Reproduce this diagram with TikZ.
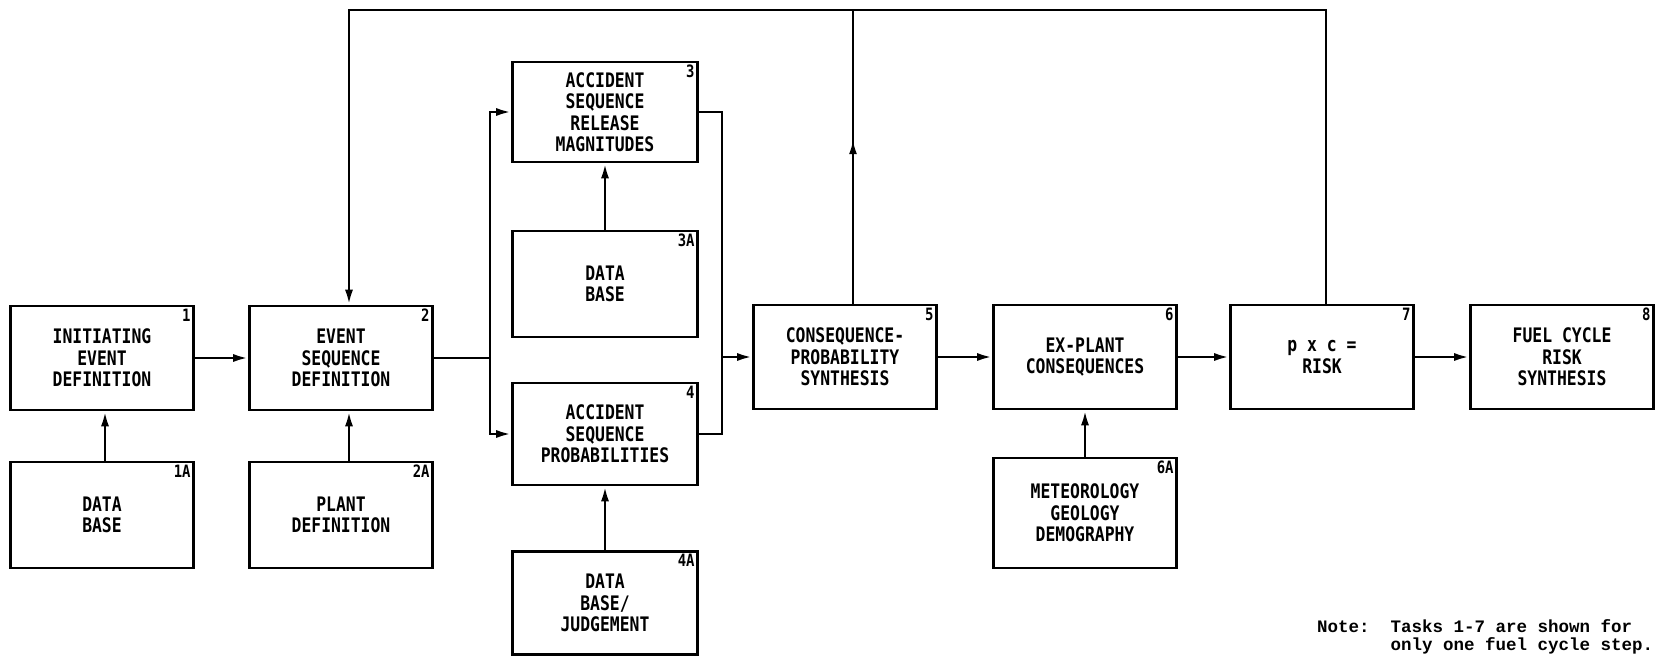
\documentclass[tikz,border=0pt]{standalone}
\usepackage{fontspec}
\usepackage{tikz}
\usetikzlibrary{arrows.meta, positioning, decorations.markings}
\newfontfamily\boxfont[FakeStretch=0.82]{DejaVu Sans Mono}
\newfontfamily\notefont{Liberation Mono}

\begin{document}
\begin{tikzpicture}[x=1pt, y=-1pt,
    task/.style={rectangle, draw=black, line width=2.6pt, minimum width=183pt, minimum height=104pt, text centered, align=center, inner sep=2pt, font=\boxfont\bfseries\fontsize{20}{21.5}\selectfont},
    tag/.style={anchor=north east, inner sep=4pt, font=\boxfont\bfseries\fontsize{17}{17}\selectfont},
    note/.style={anchor=north west, align=left, inner sep=0pt, font=\notefont\bfseries\fontsize{17.5}{18}\selectfont},
    line/.style={draw=black, line width=2.6pt},
    arrow/.style={line, -{Latex[length=15pt, width=8pt]}},
    midarrow/.style={line, postaction={decorate}, decoration={markings, mark=at position 0.56 with {\arrow{Latex[length=15pt, width=8pt]}}}}]

    \useasboundingbox (0,0) rectangle (1655,656);

    \node [task] (b1) at (102,358) {INITIATING\\EVENT\\DEFINITION};
    \node [task] (b2) at (341,358) {EVENT\\SEQUENCE\\DEFINITION};
    \node [task, minimum height=106pt] (b1a) at (102,515) {DATA\\BASE};
    \node [task, minimum height=106pt] (b2a) at (341,515) {PLANT\\DEFINITION};

    \node [task, minimum width=185pt, minimum height=100pt] (b3) at (605,112) {ACCIDENT\\SEQUENCE\\RELEASE\\MAGNITUDES};
    \node [task, minimum width=185pt, minimum height=106pt] (b3a) at (605,284) {DATA\\BASE};
    \node [task, minimum width=185pt, minimum height=102pt] (b4) at (605,434) {ACCIDENT\\SEQUENCE\\PROBABILITIES};
    \node [task, minimum width=185pt, minimum height=103pt] (b4a) at (605,603) {DATA\\BASE/\\JUDGEMENT};

    \node [task] (b5) at (845,357) {CONSEQUENCE-\\PROBABILITY\\SYNTHESIS};
    \node [task] (b6) at (1085,357) {EX-PLANT\\CONSEQUENCES};
    \node [task, minimum height=110pt] (b6a) at (1085,513) {METEOROLOGY\\GEOLOGY\\DEMOGRAPHY};
    \node [task] (b7) at (1322,357) {p x c =\\RISK};
    \node [task] (b8) at (1562,357) {FUEL CYCLE\\RISK\\SYNTHESIS};

    \node [tag] (n1) at (b1.north east) {1};
    \node [tag] (n2) at (b2.north east) {2};
    \node [tag] (n1a) at (b1a.north east) {1A};
    \node [tag] (n2a) at (b2a.north east) {2A};
    \node [tag] (n3) at (b3.north east) {3};
    \node [tag] (n3a) at (b3a.north east) {3A};
    \node [tag] (n4) at (b4.north east) {4};
    \node [tag] (n4a) at (b4a.north east) {4A};
    \node [tag] (n5) at (b5.north east) {5};
    \node [tag] (n6) at (b6.north east) {6};
    \node [tag] (n6a) at (b6a.north east) {6A};
    \node [tag] (n7) at (b7.north east) {7};
    \node [tag] (n8) at (b8.north east) {8};

    \coordinate (split) at (490,358);
    \coordinate (merge) at (722,357);
    \coordinate (top) at (0,10);

    \draw [arrow] (b1) -- (b2);
    \draw [arrow] ([xshift=3pt]b1a.north) -- ([xshift=3pt]b1.south);
    \draw [arrow] ([xshift=8pt]b2a.north) -- ([xshift=8pt]b2.south);
    \draw [line] (b2.east) -- (split);
    \draw [arrow] (split) |- (b3.west);
    \draw [arrow] (split) |- (b4.west);
    \draw [arrow] (b3a) -- (b3);
    \draw [arrow] (b4a) -- (b4);
    \draw [line] (b3.east) -| (merge);
    \draw [line] (b4.east) -| (merge);
    \draw [arrow] (merge) -- (b5.west);
    \draw [arrow] (b5) -- (b6);
    \draw [arrow] (b6a) -- (b6);
    \draw [arrow] (b6) -- (b7);
    \draw [arrow] (b7) -- (b8);

    \draw [arrow] ([xshift=4pt]b7.north) -- ([xshift=4pt]b7.north |- top) -| ([xshift=8pt]b2.north);
    \draw [midarrow] ([xshift=8pt]b5.north) -- ([xshift=8pt]b5.north |- top);

    \node [note] (note) at (1317,619) {Note:~~Tasks 1-7 are shown for\\\phantom{Note:~~}only one fuel cycle step.};

\end{tikzpicture}
\end{document}
